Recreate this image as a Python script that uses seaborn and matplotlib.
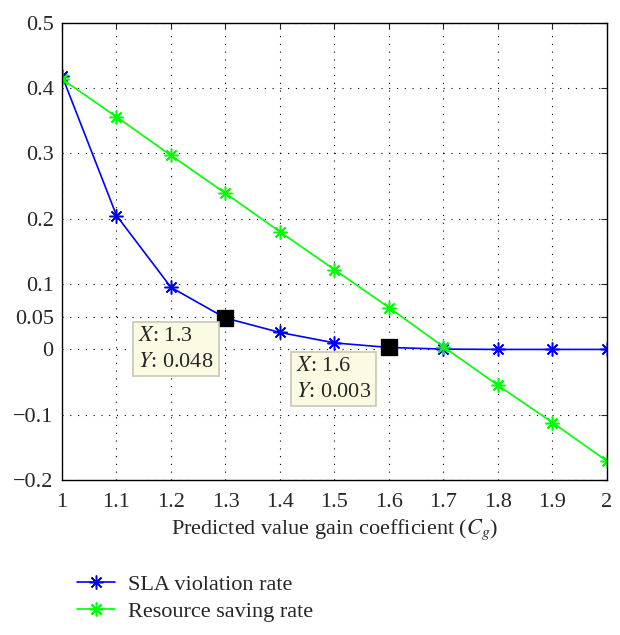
import matplotlib
matplotlib.use('Agg')
import matplotlib.pyplot as plt
import pandas as pd
import seaborn as sns

cg = [1.0, 1.1, 1.2, 1.3, 1.4, 1.5, 1.6, 1.7, 1.8, 1.9, 2.0]
sla_rate = [0.419, 0.205, 0.095, 0.048, 0.026, 0.010, 0.003, 0.0005, 0.0, 0.0, 0.0]
saving_rate = [0.414, 0.356, 0.297, 0.239, 0.180, 0.122, 0.064, 0.004, -0.055, -0.112, -0.171]
tips_x = [1.3, 1.6]
tips_y = [0.048, 0.003]
tip_labels = ['$X$: 1.3\n$Y$: 0.048', '$X$: 1.6\n$Y$: 0.003']
yticks = [-0.2, -0.1, 0, 0.05, 0.1, 0.2, 0.3, 0.4, 0.5]
yticklabels = ['\u22120.2', '\u22120.1', '0', '0.05', '0.1', '0.2', '0.3', '0.4', '0.5']
xticks = [1, 1.1, 1.2, 1.3, 1.4, 1.5, 1.6, 1.7, 1.8, 1.9, 2]
xticklabels = ['1', '1.1', '1.2', '1.3', '1.4', '1.5', '1.6', '1.7', '1.8', '1.9', '2']

df = pd.DataFrame({'cg': cg, 'SLA violation rate': sla_rate,
                   'Resource saving rate': saving_rate})

sns.set_style('white')
plt.rcParams['font.family'] = ['Liberation Serif', 'DejaVu Serif']
plt.rcParams['mathtext.fontset'] = 'stix'

fig = plt.figure(figsize=(6.2, 6.35), dpi=100)
ax = fig.add_axes([0.1, 0.244, 0.879, 0.720])

star = (8, 2, 0)
sns.lineplot(data=df, x='cg', y='SLA violation rate', color='#0000ff', marker=star,
             markersize=10, markeredgewidth=1.1, markeredgecolor='#0000ff',
             linewidth=1.2, label='SLA violation rate', ax=ax, legend=False)
sns.lineplot(data=df, x='cg', y='Resource saving rate', color='#00ff00', marker=star,
             markersize=10, markeredgewidth=1.1, markeredgecolor='#00ff00',
             linewidth=1.2, label='Resource saving rate', ax=ax, legend=False)
sns.scatterplot(x=tips_x, y=tips_y, marker='s', s=140, color='black',
                edgecolor='black', ax=ax, zorder=5, legend=False)

tip_pos = [(1.14, 0.034), (1.43, -0.012)]
for (tx, ty), lab in zip(tip_pos, tip_labels):
    ax.text(tx, ty, lab, fontsize=16, ha='left', va='top', linespacing=1.45,
            bbox=dict(boxstyle='square,pad=0.22', facecolor='#fbfbe3',
                      edgecolor='#c8c8b4', linewidth=1.2), zorder=6)

ax.set_xlim(1, 2)
ax.set_ylim(-0.2, 0.5)
ax.set_xticks(xticks)
ax.set_xticklabels(xticklabels)
ax.set_yticks(yticks)
ax.set_yticklabels(yticklabels)
ax.tick_params(direction='in', top=True, right=True, length=4, labelsize=16,
               width=0.8, pad=6)
ax.tick_params(axis='x', pad=9)
ax.grid(True, color='black', linestyle=(0, (1, 6)), linewidth=0.8)
for sp in ax.spines.values():
    sp.set_color('black')
    sp.set_linewidth(1.0)

ax.set_xlabel('Predicted value gain coefficient ($C_g$)', fontsize=16, labelpad=4)
ax.set_ylabel('')

handles, labels = ax.get_legend_handles_labels()
fig.legend(handles[:2], labels[:2], loc='upper left', bbox_to_anchor=(0.11, 0.11),
           frameon=False, fontsize=16, handlelength=1.7, handletextpad=0.6,
           labelspacing=0.3, borderaxespad=0)

fig.savefig('out.png', dpi=100)
